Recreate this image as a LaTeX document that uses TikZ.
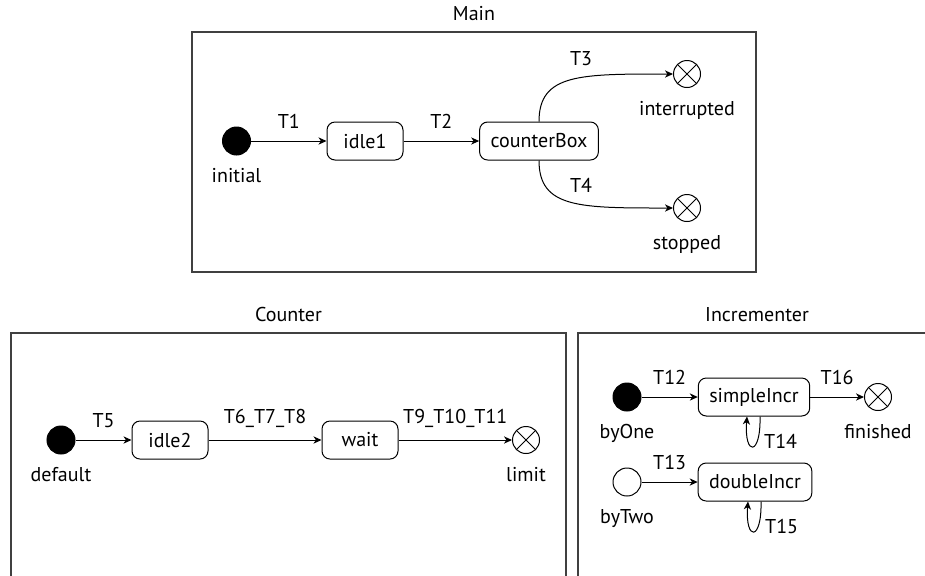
\documentclass[tikz,border=0pt]{standalone}
\usepackage{fontspec}
\setmainfont{PT Sans}
\usetikzlibrary{arrows.meta}

\begin{document}
\begin{tikzpicture}[
    x=0.5pt, y=-0.5pt,
    font=\normalsize,
    frame/.style={
        rectangle,
        draw=black!75,
        semithick,
        inner sep=0pt,
        label={[label distance=1.7pt]above:#1}
    },
    state/.style={
        rectangle,
        rounded corners=4pt,
        draw=black,
        line width=0.5pt,
        minimum width=38pt,
        minimum height=19pt,
        inner xsep=5.5pt
    },
    startstate/.style={
        circle,
        draw=black,
        fill=black,
        line width=0.5pt,
        minimum size=14pt,
        inner sep=0pt,
        label={[label distance=3pt]below:#1}
    },
    endstate/.style={
        circle,
        draw=black,
        line width=0.5pt,
        minimum size=13.5pt,
        inner sep=0pt,
        path picture={
            \draw (path picture bounding box.north west) -- (path picture bounding box.south east)
                  (path picture bounding box.south west) -- (path picture bounding box.north east);
        },
        label={[label distance=3pt]below:#1}
    },
    arrow/.style={
        -{Stealth[length=4pt,width=3.6pt,inset=1.2pt]},
        line width=0.5pt
    },
    tlabel/.style={above=2.5pt},
    looplabel/.style={anchor=west}
]

\useasboundingbox (0,0) rectangle (925,575);
\clip (0,0) rectangle (925,575);

% Main
\node[frame=Main, minimum width=282pt, minimum height=120pt] (mainframe) at (474,152) {};

\node[startstate=initial] (initial) at (236.5,141) {};
\node[state] (idle1)      at (365,141) {idle1};
\node[state] (counterBox) at (539,141) {counterBox};
\node[endstate=interrupted] (interrupted) at (687,74) {};
\node[endstate=stopped]     (stopped)     at (687,208) {};

\draw[arrow] (initial) -- node[tlabel] {T1} (idle1);
\draw[arrow] (idle1) -- node[tlabel] {T2} (counterBox);
\draw[arrow] (counterBox.north) .. controls +(0,-48) and +(-93,0) .. node[tlabel, pos=0.57] {T3} (interrupted.west);
\draw[arrow] (counterBox.south) .. controls +(0,48) and +(-93,0) .. node[tlabel, pos=0.57] {T4} (stopped.west);

% Counter
\node[frame=Counter, minimum width=277.5pt, minimum height=128.5pt] (counterframe) at (288.5,461.5) {};

\node[startstate=default] (default) at (61,440) {};
\node[state] (idle2) at (170,440) {idle2};
\node[state] (wait)  at (360,440) {wait};
\node[endstate=limit] (limit) at (526,440) {};

\draw[arrow] (default) -- node[tlabel] {T5} (idle2);
\draw[arrow] (idle2) -- node[tlabel] {T6\_T7\_T8} (wait);
\draw[arrow] (wait) -- node[tlabel] {T9\_T10\_T11} (limit);

% Incrementer
\node[frame=Incrementer, minimum width=179pt, minimum height=128.5pt] (incrframe) at (757,461.5) {};

\node[startstate=byOne] (byOne) at (627,397) {};
\node[state] (simpleIncr) at (754,397) {simpleIncr};
\node[endstate=finished] (finished) at (878,397) {};
\node[startstate=byTwo, fill=white] (byTwo) at (627,482) {};
\node[state] (doubleIncr) at (755,482) {doubleIncr};

\draw[arrow] (byOne) -- node[tlabel] {T12} (simpleIncr);
\draw[arrow] (simpleIncr) -- node[tlabel] {T16} (finished);
\draw[arrow] (byTwo) -- node[tlabel] {T13} (doubleIncr);
\draw[arrow] ([xshift=3pt]simpleIncr.south) .. controls +(1,40) and +(-3,40) .. node[looplabel, pos=0.3] {T14} ([xshift=-3.5pt]simpleIncr.south);
\draw[arrow] ([xshift=3pt]doubleIncr.south) .. controls +(1,40) and +(-3,40) .. node[looplabel, pos=0.3] {T15} ([xshift=-3.5pt]doubleIncr.south);

\end{tikzpicture}
\end{document}
